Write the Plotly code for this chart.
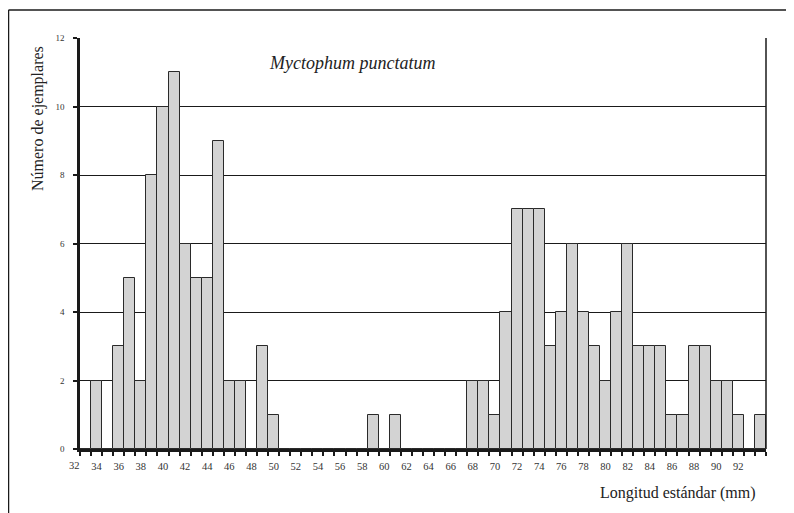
import plotly.graph_objects as go

# Data
lengths = list(range(33, 95))
counts = [0, 2, 0, 3, 5, 2, 8, 10, 11, 6, 5, 5, 9, 2, 2, 0, 3, 1,
          0, 0, 0, 0, 0, 0, 0, 0, 1, 0, 1,
          0, 0, 0, 0, 0, 0,
          2, 2, 1, 4, 7, 7, 7, 3, 4, 6, 4, 3, 2, 4, 6, 3, 3, 3, 1, 1, 3, 3, 2, 2, 1, 0, 1]
x_tick_vals = list(range(34, 93, 2))
x_tick_text = [str(v) for v in x_tick_vals]
first_label = "32"
y_ticks = [0, 2, 4, 6, 8, 10, 12]

FONT = '"Liberation Serif", "Times New Roman", Times, serif'

# page offset of the figure inside the browser page (body margin)
OFF = 8

fig = go.Figure()
fig.add_trace(go.Bar(
    x=lengths, y=counts, width=1.0,
    marker=dict(color="#d3d3d3", line=dict(color="#2a2a2a", width=1)),
    hoverinfo="x+y",
))

W, H = 794, 513
# target page coords: plot left 80, right 766, top 38, bottom 449
ml = 80 - OFF
mt = 38 - OFF
mr = W - (766 - OFF)
mb = H - (449 - OFF)
pw = W - ml - mr
ph = H - mt - mb

def px2paperx(px):
    return (px - OFF - ml) / pw

def py2papery(py):
    return (H - mb - (py - OFF)) / ph

fig.update_layout(
    width=W, height=H,
    margin=dict(l=ml, r=mr, t=mt, b=mb, pad=0),
    paper_bgcolor="white", plot_bgcolor="white",
    showlegend=False,
    bargap=0,
    font=dict(family=FONT, color="#222"),
    xaxis=dict(
        range=[32.5, 94.5],
        tickmode="array", tickvals=x_tick_vals, ticktext=x_tick_text,
        ticks="", showgrid=False, zeroline=False,
        showline=True, linecolor="#1a1a1a", linewidth=2.5,
        tickfont=dict(size=10.5, family=FONT, color="#333"),
        minor=dict(tick0=32.5, dtick=1, ticks="outside", ticklen=4,
                   tickwidth=1.5, tickcolor="#1a1a1a", showgrid=False),
        ticklabelstandoff=6,
        fixedrange=True,
    ),
    yaxis=dict(
        range=[0, 12],
        tickmode="array", tickvals=y_ticks,
        ticks="outside", ticklen=4, tickwidth=1.5, tickcolor="#1a1a1a",
        showgrid=True, gridcolor="#1a1a1a", gridwidth=1.3,
        zeroline=False,
        showline=True, linecolor="#1a1a1a", linewidth=2.5,
        tickfont=dict(size=9, family=FONT, color="#333"),
        ticklabelstandoff=7,
        fixedrange=True,
    ),
)

# x label "32" which sits just left of the axis start
fig.add_annotation(x=(32 - 32.5) / 62.0, y=0, xref="paper", yref="paper",
                   text=first_label, showarrow=False,
                   xanchor="center", yanchor="top", yshift=-9,
                   font=dict(size=10.5, family=FONT, color="#333"))

# Series name inside plot
fig.add_annotation(x=px2paperx(352), y=py2papery(63), xref="paper", yref="paper",
                   text="<i>Myctophum punctatum</i>", showarrow=False,
                   xanchor="center", yanchor="middle",
                   font=dict(size=18, family=FONT, color="#222"))

# Axis titles
fig.add_annotation(x=px2paperx(38), y=py2papery(119), xref="paper", yref="paper",
                   text="Número de ejemplares", showarrow=False, textangle=-90,
                   xanchor="center", yanchor="middle",
                   font=dict(size=16, family=FONT, color="#222"))
fig.add_annotation(x=px2paperx(678), y=py2papery(493), xref="paper", yref="paper",
                   text="Longitud estándar (mm)", showarrow=False,
                   xanchor="center", yanchor="middle",
                   font=dict(size=16, family=FONT, color="#222"))

# Right edge of plot area
fig.add_shape(type="line", xref="paper", yref="paper", x0=1, x1=1, y0=0, y1=1,
              line=dict(color="#1a1a1a", width=1.5))
# Outer frame (top and left edges visible)
fig.add_shape(type="line", xref="paper", yref="paper",
              x0=px2paperx(8.5), x1=px2paperx(820), y0=py2papery(10), y1=py2papery(10),
              line=dict(color="#1a1a1a", width=1.5))
fig.add_shape(type="line", xref="paper", yref="paper",
              x0=px2paperx(8.5), x1=px2paperx(8.5), y0=py2papery(10), y1=py2papery(540),
              line=dict(color="#1a1a1a", width=1.5))

fig.write_html("out.html")
